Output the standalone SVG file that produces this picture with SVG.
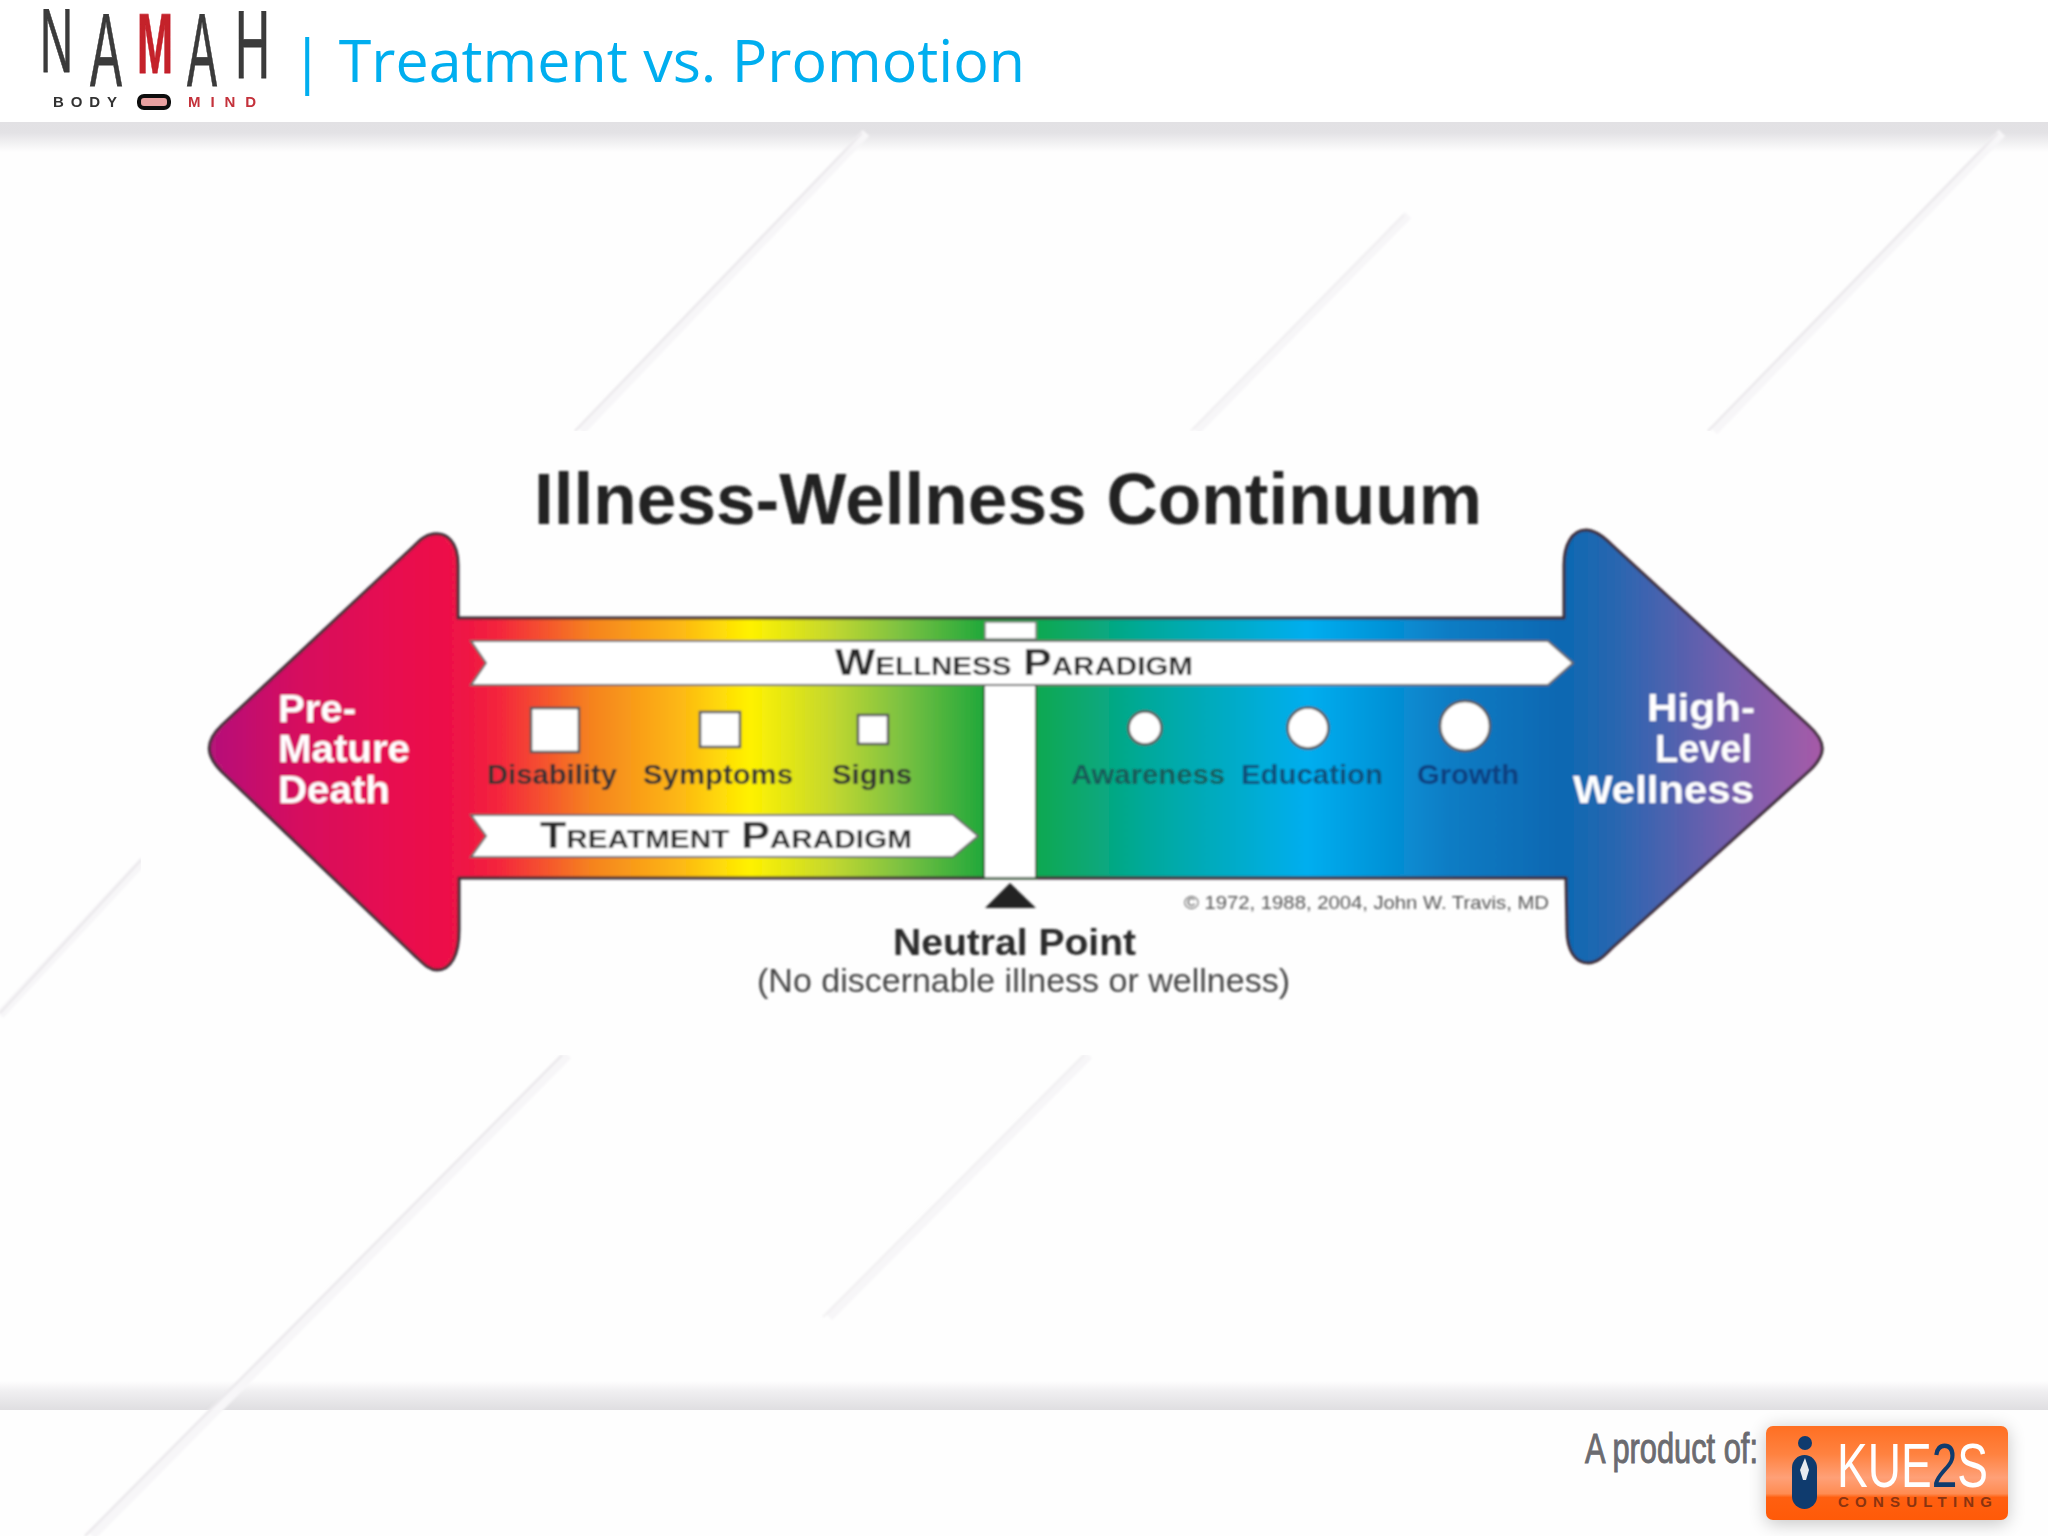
<svg xmlns="http://www.w3.org/2000/svg" width="2048" height="1536" viewBox="0 0 2048 1536">
<style>
.s{font-family:"Liberation Sans",Arial,sans-serif}
.b{font-family:"Liberation Sans",Arial,sans-serif;font-weight:700}
.lab{font-size:27px;fill:#333}
.big{font-size:38px;fill:#fff;font-weight:700;font-family:"Liberation Sans",Arial,sans-serif}
.logo{font-family:"Liberation Sans",Arial,sans-serif;fill:#3a3a3a;stroke:#3a3a3a;stroke-width:0.8}
.band{fill:#fff;stroke:#666;stroke-width:2}
.shape{fill:#fff;stroke:#555;stroke-width:2.5}
.core{stroke:#ebe9ec;stroke-width:2.5;fill:none}
.glow{stroke:#f7f6f8;stroke-width:9;fill:none}
</style>
<defs>
<linearGradient id="rainbow" gradientUnits="userSpaceOnUse" x1="209" y1="0" x2="1824" y2="0">
<stop offset="0" stop-color="#b5127a"/>
<stop offset="0.056" stop-color="#d60f5e"/>
<stop offset="0.118" stop-color="#e8104f"/>
<stop offset="0.155" stop-color="#ee1246"/>
<stop offset="0.18" stop-color="#f4263c"/>
<stop offset="0.236" stop-color="#f5821f"/>
<stop offset="0.292" stop-color="#fdb813"/>
<stop offset="0.335" stop-color="#fff200"/>
<stop offset="0.385" stop-color="#c4d82e"/>
<stop offset="0.428" stop-color="#7dc242"/>
<stop offset="0.479" stop-color="#22a83a"/>
<stop offset="0.512" stop-color="#12a850"/>
<stop offset="0.583" stop-color="#00a99d"/>
<stop offset="0.68" stop-color="#00aeef"/>
<stop offset="0.769" stop-color="#0a7cc4"/>
<stop offset="0.835" stop-color="#0868b2"/>
<stop offset="0.875" stop-color="#2d66b0"/>
<stop offset="0.93" stop-color="#6a5fae"/>
<stop offset="1" stop-color="#a85aa8"/>
</linearGradient>
<linearGradient id="hdr" x1="0" y1="0" x2="0" y2="1">
<stop offset="0" stop-color="#e2e1e4"/><stop offset="0.35" stop-color="#e3e2e5"/><stop offset="1" stop-color="#fefefe"/>
</linearGradient>
<linearGradient id="ftr" x1="0" y1="0" x2="0" y2="1">
<stop offset="0" stop-color="#fefefe"/><stop offset="0.35" stop-color="#f0eff1"/><stop offset="1" stop-color="#dfdee1"/>
</linearGradient>
<linearGradient id="kue" x1="0" y1="0" x2="0" y2="1">
<stop offset="0" stop-color="#ff6f22"/><stop offset="0.3" stop-color="#ff8240"/><stop offset="0.55" stop-color="#ffa077"/><stop offset="0.72" stop-color="#ff8c52"/><stop offset="0.76" stop-color="#ff5f10"/><stop offset="1" stop-color="#ff5a08"/>
</linearGradient>
<filter id="soft" x="-5%" y="-5%" width="110%" height="110%"><feGaussianBlur stdDeviation="0.9"/></filter>
<filter id="soft2" x="-5%" y="-5%" width="110%" height="110%"><feGaussianBlur stdDeviation="0.6"/></filter>
<filter id="sh" x="-20%" y="-30%" width="140%" height="160%"><feGaussianBlur stdDeviation="9"/></filter>
<filter id="sb" filterUnits="userSpaceOnUse" x="0" y="0" width="2048" height="1536"><feGaussianBlur stdDeviation="1"/></filter>
</defs>

<g id="background">
<rect width="2048" height="1536" fill="#fefefe"/>
<rect y="122" width="2048" height="30" fill="url(#hdr)"/>
<rect y="1381" width="2048" height="29" fill="url(#ftr)"/>
<g id="stripes" filter="url(#sb)">
<path class="glow" d="M866,133 L581,431 M2002,133 L1714,431 M1408,215 L1196,431 M144,860 L0,1015 M568,1055 L92,1536 M1089,1055 L829,1317"/>
<path class="core" d="M862,133 L575,431 M1998,133 L1708,431 M141,860 L0,1013 M562,1055 L85,1536"/>
<path class="core" d="M1404,215 L1191,431 M1084,1055 L823,1317" opacity="0.5"/>
</g>
<rect x="141" y="431" width="1570" height="624" fill="#fefefe"/>
</g>

<g id="header">
<rect width="2048" height="122" fill="#ffffff"/>
<g id="logo-namah" filter="url(#soft2)">
<text class="logo" x="40" y="72" font-size="90" textLength="33" lengthAdjust="spacingAndGlyphs">N</text>
<text class="logo" x="90" y="86" font-size="104" textLength="32" lengthAdjust="spacingAndGlyphs">A</text>
<text class="logo" x="137" y="73" font-size="86" font-weight="700" textLength="36" lengthAdjust="spacingAndGlyphs" style="fill:#c4202a;stroke:#c4202a">M</text>
<text class="logo" x="187" y="86" font-size="104" textLength="30" lengthAdjust="spacingAndGlyphs">A</text>
<text class="logo" x="235" y="78" font-size="96" textLength="35" lengthAdjust="spacingAndGlyphs">H</text>
<text class="b" x="53" y="107" font-size="15" fill="#333" textLength="64">BODY</text>
<rect x="139" y="96" width="30" height="12" rx="5" fill="#e8a0a0" stroke="#111" stroke-width="4"/>
<text class="b" x="188" y="107" font-size="15" fill="#c4303a" textLength="68">MIND</text>
</g>
<text id="title" x="291" y="82" font-family="'Open Sans','Liberation Sans',sans-serif" font-size="59" fill="#00aeef" textLength="734" lengthAdjust="spacingAndGlyphs">| Treatment vs. Promotion</text>
</g>

<g id="continuum" filter="url(#soft)">
<text class="b" x="534" y="524" font-size="72" fill="#222" textLength="948" lengthAdjust="spacingAndGlyphs">Illness-Wellness Continuum</text>

<path id="arrow" d="M458,618 L458,565 C458,542 447,532 433,534 C425,535 420,540 414,546 L222,725 C205,741 205,755 222,772 L414,955 C422,962 428,970 437,970 C451,970 459,955 459,930 L459,878 L1566,878 L1567,930 C1567,950 1575,963 1588,963 C1598,963 1605,955 1612,948 L1808,772 C1827,755 1827,742 1808,725 L1612,545 C1605,538 1596,530 1586,530 C1572,530 1564,545 1564,565 L1564,618 Z" fill="url(#rainbow)" stroke="#3a2c35" stroke-width="3" stroke-linejoin="round"/>

<g id="neutral-column">
<rect x="985" y="622" width="51" height="17" fill="#fff" stroke="#777" stroke-width="1.5"/>
<rect x="984" y="680" width="52" height="198" fill="#fff" stroke="#2c5a30" stroke-width="2"/>
</g>

<g id="wellness-paradigm">
<polygon class="band" points="471,641 1548,641 1573,663 1548,685 471,685 486,663"/>
<text class="b" x="835" y="675" font-size="36" fill="#2a2a2a" style="font-variant:small-caps" textLength="358" lengthAdjust="spacingAndGlyphs">Wellness Paradigm</text>
</g>
<g id="treatment-paradigm">
<polygon class="band" points="471,815 953,815 978,836 953,857 471,857 486,836"/>
<text class="b" x="540" y="848" font-size="36" fill="#2a2a2a" style="font-variant:small-caps" textLength="372" lengthAdjust="spacingAndGlyphs">Treatment Paradigm</text>
</g>

<g id="disability"><rect class="shape" x="531" y="708" width="48" height="44"/><text class="b lab" x="487" y="784" textLength="130" lengthAdjust="spacingAndGlyphs">Disability</text></g>
<g id="symptoms"><rect class="shape" x="700" y="712" width="40" height="35"/><text class="b lab" x="643" y="784" textLength="150" lengthAdjust="spacingAndGlyphs">Symptoms</text></g>
<g id="signs"><rect class="shape" x="858" y="715" width="30" height="29"/><text class="b lab" x="832" y="784" textLength="80" lengthAdjust="spacingAndGlyphs">Signs</text></g>
<g id="awareness"><circle class="shape" cx="1145" cy="728" r="16.5"/><text class="b lab" x="1071" y="784" textLength="154" lengthAdjust="spacingAndGlyphs" style="fill:#165a58">Awareness</text></g>
<g id="education"><circle class="shape" cx="1308" cy="728" r="20.5"/><text class="b lab" x="1241" y="784" textLength="142" lengthAdjust="spacingAndGlyphs" style="fill:#0b4f7a">Education</text></g>
<g id="growth"><circle class="shape" cx="1465" cy="726" r="25"/><text class="b lab" x="1417" y="784" textLength="102" lengthAdjust="spacingAndGlyphs" style="fill:#0a3f80">Growth</text></g>

<g id="pre-mature-death">
<text class="big" x="278" y="722" textLength="78" lengthAdjust="spacingAndGlyphs">Pre-</text>
<text class="big" x="278" y="762" textLength="132" lengthAdjust="spacingAndGlyphs">Mature</text>
<text class="big" x="278" y="803" textLength="112" lengthAdjust="spacingAndGlyphs">Death</text>
</g>
<g id="high-level-wellness">
<text class="big" x="1647" y="721" textLength="108" lengthAdjust="spacingAndGlyphs">High-</text>
<text class="big" x="1655" y="762" textLength="97" lengthAdjust="spacingAndGlyphs">Level</text>
<text class="big" x="1573" y="803" textLength="181" lengthAdjust="spacingAndGlyphs">Wellness</text>
</g>

<g id="neutral-point">
<polygon points="1010,883 1036,908 985,908" fill="#222"/>
<text class="b" x="893" y="955" font-size="36" fill="#2a2a2a" textLength="243" lengthAdjust="spacingAndGlyphs">Neutral Point</text>
<text class="s" x="757" y="992" font-size="33" fill="#444" textLength="533" lengthAdjust="spacingAndGlyphs">(No discernable illness or wellness)</text>
</g>
<text class="s" x="1184" y="909" font-size="19" fill="#555" textLength="365" lengthAdjust="spacingAndGlyphs">© 1972, 1988, 2004, John W. Travis, MD</text>
</g>

<g id="footer">
<text class="s" x="1585" y="1463" font-size="42" fill="#6b6b70" textLength="173" lengthAdjust="spacingAndGlyphs" stroke="#6b6b70" stroke-width="1">A product of:</text>
<g id="logo-kue2s">
<rect x="1766" y="1428" width="242" height="96" rx="8" fill="#000" opacity="0.22" filter="url(#sh)"/>
<rect x="1766" y="1426" width="242" height="94" rx="7" fill="url(#kue)"/>
<circle cx="1805" cy="1443" r="7" fill="#0f3b6e"/>
<rect x="1792" y="1455" width="25" height="54" rx="12.5" fill="#0f3b6e"/>
<polygon points="1805,1458 1809,1470 1806,1480 1803,1480 1800,1470" fill="#fff" opacity="0.9"/>
<text class="s" x="1837" y="1487" font-size="63" fill="#fff" textLength="151" lengthAdjust="spacingAndGlyphs">KUE<tspan fill="#0f3b6e">2</tspan>S</text>
<text class="b" x="1838" y="1507" font-size="15" fill="#8a3410" textLength="154">CONSULTING</text>
</g>
</g>
</svg>
